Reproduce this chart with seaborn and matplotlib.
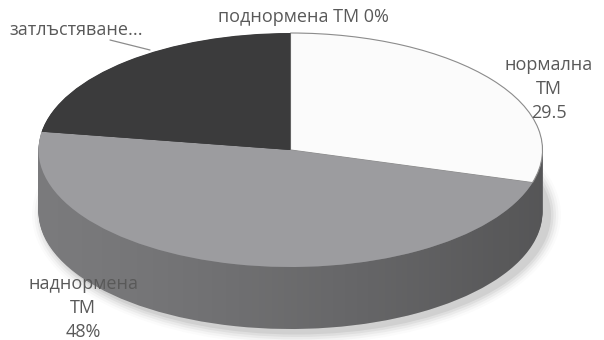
import matplotlib
matplotlib.use("Agg")
import matplotlib.pyplot as plt
import seaborn as sns
import numpy as np
from matplotlib.patches import Ellipse, Polygon

# ---- data ----
categories = ["нормална ТМ", "наднормена ТМ", "затлъстяване...", "поднормена ТМ"]
values = [29.5, 48, 22.5, 0]
label_texts = ["нормална\nТМ\n29.5", "наднормена\nТМ\n48%", "затлъстяване...", "поднормена ТМ 0%"]

top_colors = ["#fbfbfb", "#9c9c9f", "#3b3b3c", "#7f7f7f"]
side_colors = ["#7a7a7c", "#7a7a7c", "#2b2b2c", "#5a5a5a"]

sns.set_theme(style="white")
plt.rcParams['font.family'] = ['Open Sans', 'DejaVu Sans']

W, H = 604, 340
fig = plt.figure(figsize=(W / 100, H / 100), dpi=100)
fig.patch.set_facecolor("white")

# geometry in pixels
cx, cy = 290.5, 150.0
rx, ry = 252.0, 117.0
depth = 62.0
d = depth / ry

ax = fig.add_axes([0, 0, 1, 1])
ax.set_facecolor("white")

# soft shadow (bottom-right)
for k, a in enumerate(np.linspace(0.06, 0.015, 5)):
    e = Ellipse((6 / rx, -d - 3 / ry), 2 * (1 + (k + 1) * 2.5 / rx), 2 * (1 + (k + 1) * 2.5 / ry),
                facecolor="black", alpha=a, edgecolor="none", zorder=0.5)
    ax.add_patch(e)

n_layers = 70
for off in np.linspace(depth, 0.5, n_layers):
    ax.pie(values, colors=side_colors, startangle=90, counterclock=False,
           center=(0, -off / ry), radius=1,
           wedgeprops=dict(linewidth=0, antialiased=True, zorder=1))

# horizontal shading of the side wall
t = np.linspace(0, -np.pi, 200)
pts = np.concatenate([np.c_[np.cos(t), np.sin(t)], np.c_[np.cos(t[::-1]), np.sin(t[::-1]) - d]])
clip = Polygon(pts, closed=True, facecolor="none", edgecolor="none", transform=ax.transData)
ax.add_patch(clip)
grad = np.linspace(0.0, 1.0, 256)[None, :]
rgba = np.zeros((1, 256, 4))
rgba[..., 3] = (grad ** 1.3) * 0.30
im = ax.imshow(rgba, extent=(-1, 1, -1 - d, 0.1), aspect="auto", zorder=1.5, interpolation="bilinear")
im.set_clip_path(clip)

wedges, _ = ax.pie(values, colors=top_colors, startangle=90, counterclock=False,
                   center=(0, 0), radius=1,
                   wedgeprops=dict(linewidth=0, antialiased=True, zorder=2))
wedges[0].set_edgecolor("#8c8c8c")
wedges[0].set_linewidth(0.8)

ax.set_aspect("auto")
ax.set_xlim(-cx / rx, (W - cx) / rx)
ax.set_ylim(-(H - cy) / ry, cy / ry)
ax.axis("off")

# overlay in pixel coords for labels
ov = fig.add_axes([0, 0, 1, 1])
ov.set_xlim(0, W)
ov.set_ylim(H, 0)
ov.axis("off")
ov.patch.set_alpha(0)

tc = "#595959"
fs = 13
ov.text(549, 89, label_texts[0], ha="center", va="center", fontsize=fs, color=tc, linespacing=1.42)
ov.text(83, 308, label_texts[1], ha="center", va="center", fontsize=fs, color=tc, linespacing=1.42)
ov.text(76, 30, label_texts[2], ha="center", va="center", fontsize=fs, color=tc)
ov.text(303, 17, label_texts[3], ha="center", va="center", fontsize=fs, color=tc)
ov.plot([110, 150], [40, 50], color="#8c8c8c", lw=0.9)

fig.savefig("out.png", dpi=100, facecolor="white")
